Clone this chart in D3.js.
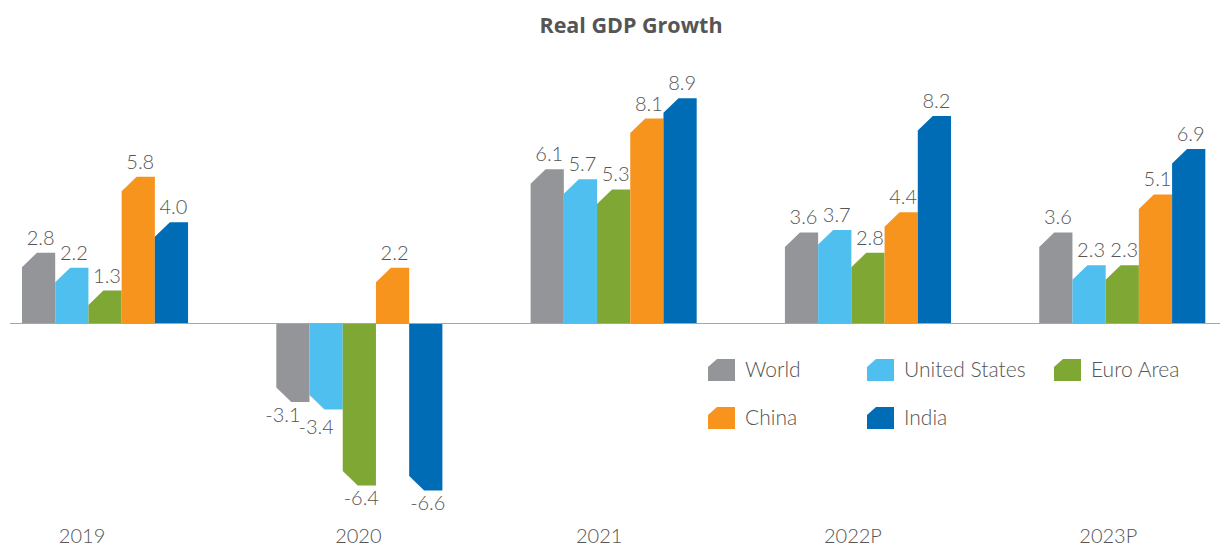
<!DOCTYPE html>
<html><head><meta charset="utf-8">
<script src="https://cdn.jsdelivr.net/npm/d3@7"></script>
<style>body{margin:0;background:#fff}</style>
</head><body>
<svg id="c" width="1223" height="547"></svg>
<script>
const categories = ["2019","2020","2021","2022P","2023P"];
const seriesNames = ["World","United States","Euro Area","China","India"];
const world = [2.8,-3.1,6.1,3.6,3.6];
const unitedStates = [2.2,-3.4,5.7,3.7,2.3];
const euroArea = [1.3,-6.4,5.3,2.8,2.3];
const china = [5.8,2.2,8.1,4.4,5.1];
const india = [4.0,-6.6,8.9,8.2,6.9];
const seriesValues = [world, unitedStates, euroArea, china, india];
const colors = ["#939598","#4fbfef","#7ea734","#f7941e","#006cb5"];

// layout nudges for category labels (pixels, relative to group centre)
const catLabelNudge = [-23, -1, -14.5, -15, -14];

const svg = d3.select("#c");
const font = "Lato, 'Open Sans', sans-serif";
const txt = "#555";

const x0 = d3.scaleBand().domain(categories).range([22,1205.3]).paddingInner(0.347).paddingOuter(0);
const x1 = d3.scaleBand().domain(seriesNames).range([0,x0.bandwidth()]).padding(0);
const y = d3.scaleLinear().domain([-8,10]).range([323.5+8*25.3, 323.5-10*25.3]);

svg.append("text").attr("x",631).attr("y",33).attr("text-anchor","middle")
  .attr("font-family","'Open Sans', sans-serif").attr("font-weight","bold").attr("font-size",21.5).attr("fill",txt)
  .text("Real GDP Growth");

const cx = 15, cy = 14.5;
function barPath(x, w, v){
  const y0 = y(0), y1 = y(v);
  if (v >= 0){
    return `M${x},${y0}L${x},${y1+cy}L${x+cx},${y1}L${x+w},${y1}L${x+w},${y0}Z`;
  } else {
    return `M${x},${y0}L${x},${y1-cy}L${x+cx},${y1}L${x+w},${y1}L${x+w},${y0}Z`;
  }
}

const g = svg.append("g");
categories.forEach((c,ci)=>{
  let prevNegY = null;
  seriesNames.forEach((s,si)=>{
    const v = seriesValues[si][ci];
    const bx = x0(c)+x1(s), bw = x1.bandwidth();
    g.append("path").attr("d",barPath(bx,bw,v)).attr("fill",colors[si]);
    let dx = 0;
    let ly;
    if (v >= 0) {
      ly = y(v) - 8;
      prevNegY = null;
    } else {
      if (si < seriesNames.length-1) {
        const nv = seriesValues[si+1][ci];
        if (nv < v + 0.8) dx = -12;
      }
      ly = y(v) + 20;
      if (prevNegY !== null && ly - prevNegY < 12) ly = prevNegY + 12;
      prevNegY = ly;
    }
    g.append("text").attr("x",bx+bw/2+2+dx).attr("y", ly)
      .attr("text-anchor","middle").attr("font-family",font).attr("font-weight",300).attr("font-size",20).attr("fill",txt)
      .text(v.toFixed(1));
  });
});

svg.append("line").attr("x1",10).attr("x2",1220).attr("y1",y(0)).attr("y2",y(0))
  .attr("stroke","#a6a6a6").attr("stroke-width",1.2);

categories.forEach((c,i)=>{
  svg.append("text").attr("x",x0(c)+x0.bandwidth()/2+catLabelNudge[i]).attr("y",542.5)
    .attr("text-anchor","middle").attr("font-family",font).attr("font-weight",300).attr("font-size",20).attr("fill",txt).text(c);
});

const legendPos = [[708,359],[867,359],[1054,359],[708,407],[867,407]];
seriesNames.forEach((s,i)=>{
  const [lx,ly] = legendPos[i];
  const w = 27, h = 22;
  svg.append("path").attr("d",`M${lx},${ly+h}L${lx},${ly+8}L${lx+9},${ly}L${lx+w},${ly}L${lx+w},${ly+h}Z`).attr("fill",colors[i]);
  svg.append("text").attr("x",lx+37).attr("y",ly+18).attr("font-family",font).attr("font-weight",300).attr("font-size",21).attr("fill",txt).text(s);
});
</script>
</body></html>
